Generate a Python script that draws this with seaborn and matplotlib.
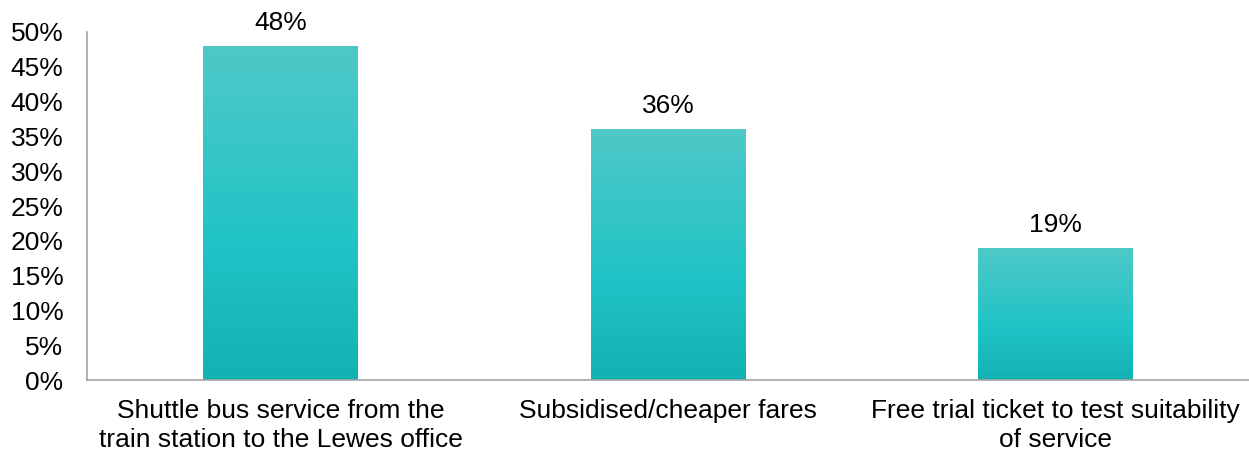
import numpy as np
import pandas as pd
import matplotlib
matplotlib.use("Agg")
import matplotlib.pyplot as plt
from matplotlib.colors import LinearSegmentedColormap
import seaborn as sns

categories = [
    "Shuttle bus service from the\ntrain station to the Lewes office",
    "Subsidised/cheaper fares",
    "Free trial ticket to test suitability\nof service",
]
shares = [0.48, 0.36, 0.19]
value_labels = ["48%", "36%", "19%"]
ytick_values = [0.0, 0.05, 0.10, 0.15, 0.20, 0.25, 0.30, 0.35, 0.40, 0.45, 0.50]
ytick_labels = ["0%", "5%", "10%", "15%", "20%", "25%", "30%", "35%", "40%", "45%", "50%"]

sns.set_theme(style="white")
plt.rcParams["font.family"] = ["Liberation Sans", "DejaVu Sans"]

FS = 19

df = pd.DataFrame({"category": categories, "share": shares})

fig = plt.figure(figsize=(12.49, 4.55), dpi=100)
ax = fig.add_axes([0.0697, 0.1648, 0.9303, 0.7649])

sns.barplot(data=df, x="category", y="share", ax=ax, width=0.4,
            color="#20C4C6", saturation=1)

# vertical teal gradient inside each bar: lighter at the top, deeper at the base
teal = LinearSegmentedColormap.from_list(
    "teal", [(0.0, "#14B1B3"), (0.4, "#20C4C6"), (1.0, "#4FC8C8")])
grad = np.linspace(0, 1, 256).reshape(-1, 1)
for patch in ax.patches:
    x0, y0 = patch.get_x(), patch.get_y()
    w, h = patch.get_width(), patch.get_height()
    patch.set_facecolor("none")
    patch.set_edgecolor("none")
    im = ax.imshow(grad, cmap=teal, origin="lower", aspect="auto",
                   extent=[x0, x0 + w, y0, y0 + h], zorder=2)
    im.set_clip_path(patch)

for i, (v, lab) in enumerate(zip(shares, value_labels)):
    ax.annotate(lab, xy=(i, v), xytext=(0, 8), textcoords="offset points",
                ha="center", va="bottom", fontsize=FS, color="#000000")

ax.set_xlim(-0.5, 2.5)
ax.set_ylim(0, 0.5)
ax.set_yticks(ytick_values)
ax.set_yticklabels(ytick_labels)
ax.set_xlabel("")
ax.set_ylabel("")
ax.tick_params(axis="y", length=0, pad=17, labelsize=FS, labelcolor="#000000")
ax.tick_params(axis="x", length=0, pad=14, labelsize=FS, labelcolor="#000000")
for lbl in ax.get_xticklabels():
    lbl.set_verticalalignment("top")
    lbl.set_linespacing(1.22)

for side in ["top", "right"]:
    ax.spines[side].set_visible(False)
for side in ["left", "bottom"]:
    ax.spines[side].set_color("#A6A6A6")
    ax.spines[side].set_linewidth(1.2)
ax.grid(False)

fig.savefig("out.png", dpi=100, facecolor="white")
